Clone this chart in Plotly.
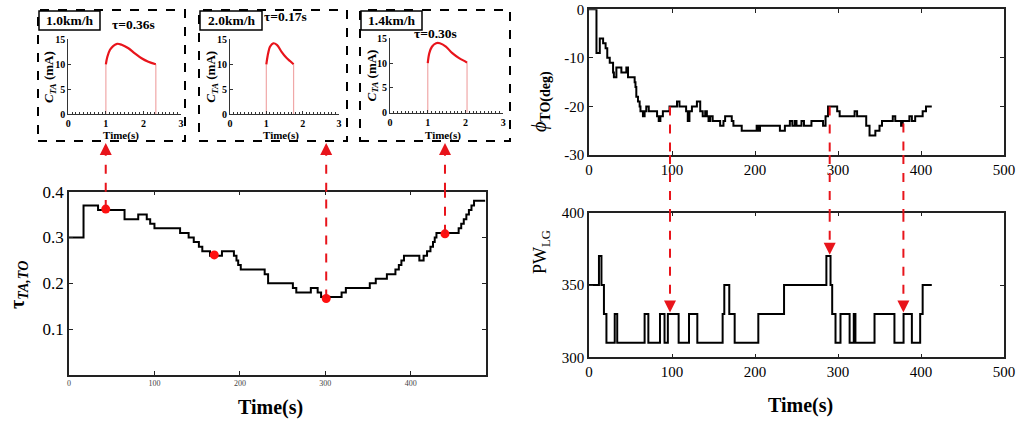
import plotly.graph_objects as go

W, H = 1021, 423          # size of the photographed page
PAGE_MARGIN = 0           # body margin is removed by the post script below
FONT = "Liberation Serif"
RED = "#e8141b"

# ---------------- data ----------------
tau_time = [0, 17, 34, 65, 81, 91, 95, 100, 130, 140, 146, 152, 156, 165, 179, 193, 196, 198, 201,
            229, 233, 262, 266, 283, 291, 295, 319, 324, 352, 359, 372, 382, 386, 389, 392, 410,
            415, 419, 423, 426, 428, 430, 456, 459, 462, 465, 468, 471, 474, 487]
tau_val = [0.30, 0.37, 0.36, 0.34, 0.35, 0.34, 0.33, 0.32, 0.31, 0.30, 0.29, 0.28, 0.27, 0.26, 0.27,
           0.26, 0.25, 0.24, 0.23, 0.22, 0.20, 0.19, 0.18, 0.19, 0.18, 0.17, 0.18, 0.19, 0.20, 0.21,
           0.22, 0.23, 0.24, 0.25, 0.26, 0.25, 0.26, 0.27, 0.28, 0.29, 0.30, 0.31, 0.32, 0.33, 0.34,
           0.35, 0.36, 0.37, 0.38, 0.38]
tau_mark_time = [43, 170, 301, 440]
tau_mark_val = [0.362, 0.262, 0.167, 0.308]
tau_link_time = [43, 301, 440]
tau_link_val = [0.362, 0.167, 0.308]

phi_time = [0, 9, 13, 17, 20, 22, 25, 29, 30, 33, 39, 45, 47, 55, 56, 57, 59, 61, 62, 65, 67, 69, 72,
            82, 84, 86, 89, 97, 106, 109, 117, 119, 121, 124, 130, 134, 137, 140, 142, 144, 146, 149,
            158, 162, 164, 172, 174, 184, 202, 204, 206, 230, 236, 242, 245, 248, 250, 256, 259, 268,
            282, 285, 288, 299, 302, 320, 323, 334, 338, 345, 350, 353, 366, 369, 376, 378, 386, 389,
            393, 402, 406, 413]
phi_val = [0, -9, -6, -7, -8, -10, -11, -13, -14, -12, -13, -12, -14, -15, -16, -18, -19, -20, -21,
           -22, -21, -20, -21, -22, -23, -22, -21, -20, -19, -20, -21, -23, -21, -20, -19, -21, -22,
           -21, -22, -23, -22, -23, -24, -23, -22, -23, -24, -25, -24, -25, -24, -25, -24, -23, -24,
           -23, -24, -23, -24, -23, -24, -22, -20, -21, -22, -21, -22, -24, -26, -25, -24, -23, -22,
           -23, -24, -23, -22, -23, -22, -21, -20, -20]

pw_time = [0, 12, 15, 18, 21, 31, 34, 67, 71.5, 85.5, 91, 95, 108, 120.5, 130.5, 161, 163, 169, 175.5,
           204, 235, 286, 291, 293, 297, 303, 314, 319, 321, 344, 368, 379, 389, 399, 402, 413]
pw_val = [350, 370, 350, 330, 310, 330, 310, 330, 310, 330, 310, 330, 310, 330, 310, 330, 350, 330,
          310, 330, 350, 370, 350, 330, 310, 330, 310, 330, 310, 330, 310, 330, 310, 330, 350, 350]

link_time = [97.6, 290, 378.8]
link_phi = [-20, -20, -23.5]
link_pw = [331, 371, 331]

inset_speed = ["1.0km/h", "2.0km/h", "1.4km/h"]
inset_tau = ["τ=0.36s", "τ=0.17s", "τ=0.30s"]
inset_t = [
    [1.0, 1.04, 1.11, 1.2, 1.3, 1.42, 1.6, 1.77, 1.95, 2.13, 2.33],
    [1.0, 1.05, 1.1, 1.19, 1.29, 1.42, 1.54, 1.66, 1.75],
    [1.0, 1.04, 1.11, 1.22, 1.32, 1.48, 1.65, 1.83, 2.0, 2.04],
]
inset_c = [
    [10, 11.5, 12.9, 13.7, 14.1, 13.9, 13.2, 12.2, 11.2, 10.5, 10],
    [10, 12.2, 13.5, 14.2, 13.9, 12.5, 11.4, 10.6, 10],
    [10, 12, 13.3, 14, 14, 13.3, 12, 11, 10.3, 10.1],
]

tau_xticks = [0, 100, 200, 300, 400]
tau_yticks = [0.1, 0.2, 0.3, 0.4]
right_xticks = [0, 100, 200, 300, 400, 500]
phi_yticks = [0, -10, -20, -30]
phi_yticktext = ["0", "-10", "-20", "-30"]
pw_yticks = [300, 350, 400]
inset_xticks = [0, 1, 2, 3]
inset_yticks = [0, 5, 10, 15]

# ---------------- layout helpers (page pixels -> paper fractions) ----------------
FW, FH = W - PAGE_MARGIN, H - PAGE_MARGIN


def px(x):
    return (x - PAGE_MARGIN) / FW


def py(y):
    return 1 - (y - PAGE_MARGIN) / FH


MAIN = dict(x=(69, 486), y=(191.7, 375))
RT = dict(x=(589, 1004), y=(9.3, 155))
RB = dict(x=(589, 1004), y=(212.7, 357.3))
INSETS = [dict(x=(68.3, 181), y=(39.3, 114.3)),
          dict(x=(230, 339), y=(39.3, 114.3)),
          dict(x=(390, 503.3), y=(38.3, 112.7))]
BOXES = [(38, 185), (199, 347), (360, 510)]
BOX_Y = (10, 141)
LABEL_BOXES = [(39, 100), (200, 262), (361, 422)]
TAU_POS = [(133, 25), (285, 17), (435, 33)]


def xdom(d):
    return [px(d["x"][0]), px(d["x"][1])]


def ydom(d):
    return [py(d["y"][1]), py(d["y"][0])]


def frame(**kw):
    base = dict(showline=True, linecolor="#222", linewidth=1.5, mirror="ticks", ticks="inside",
                ticklen=4, tickcolor="#222", tickwidth=1.2, showgrid=False, zeroline=False,
                ticklabeloverflow="allow")
    base.update(kw)
    return base


def label(text, x, y, size, angle=0):
    return dict(text=text, xref="paper", yref="paper", x=px(x), y=py(y), xanchor="center",
                yanchor="middle", showarrow=False, textangle=angle, font=dict(size=size))


fig = go.Figure()

# main left
fig.add_trace(go.Scatter(x=tau_time, y=tau_val, mode="lines", line=dict(color="black", width=2, shape="hv"),
                         xaxis="x", yaxis="y", showlegend=False))
fig.add_trace(go.Scatter(x=tau_mark_time, y=tau_mark_val, mode="markers",
                         marker=dict(color="#ff1010", size=9), xaxis="x", yaxis="y", showlegend=False,
                         cliponaxis=False))
# right top / bottom
fig.add_trace(go.Scatter(x=phi_time, y=phi_val, mode="lines", line=dict(color="black", width=2, shape="hv"),
                         xaxis="x2", yaxis="y2", showlegend=False))
fig.add_trace(go.Scatter(x=pw_time, y=pw_val, mode="lines", line=dict(color="black", width=2, shape="hv"),
                         xaxis="x3", yaxis="y3", showlegend=False))

# insets
for i in range(3):
    xa = "x%d" % (4 + i)
    ya = "y%d" % (4 + i)
    t, c = inset_t[i], inset_c[i]
    fig.add_trace(go.Scatter(x=[t[0], t[0], None, t[-1], t[-1]], y=[0, c[0], None, 0, c[-1]], mode="lines",
                             line=dict(color="#f0a8a8", width=1.2), xaxis=xa, yaxis=ya, showlegend=False))
    fig.add_trace(go.Scatter(x=t, y=c, mode="lines", line=dict(color=RED, width=2.2, shape="spline"),
                             xaxis=xa, yaxis=ya, showlegend=False))

layout = dict(
    width=FW, height=FH, margin=dict(l=0, r=0, t=0, b=0, autoexpand=False),
    paper_bgcolor="white", plot_bgcolor="white",
    font=dict(family=FONT, color="black"),
    xaxis=frame(domain=xdom(MAIN), range=[0, 488], tickvals=tau_xticks, tickfont=dict(size=8, color="#444"),
                anchor="y"),
    yaxis=frame(domain=ydom(MAIN), range=[0, 0.4], tickvals=tau_yticks, tickfont=dict(size=17), anchor="x"),
    xaxis2=frame(domain=xdom(RT), range=[0, 500], tickvals=right_xticks, tickfont=dict(size=15), anchor="y2"),
    yaxis2=frame(domain=ydom(RT), range=[-30, 0], tickvals=phi_yticks, ticktext=phi_yticktext,
                 tickfont=dict(size=15), anchor="x2"),
    xaxis3=frame(domain=xdom(RB), range=[0, 500], tickvals=right_xticks, tickfont=dict(size=15), anchor="y3"),
    yaxis3=frame(domain=ydom(RB), range=[300, 400], tickvals=pw_yticks, tickfont=dict(size=15), anchor="x3"),
)
for i in range(3):
    d = INSETS[i]
    layout["xaxis%d" % (4 + i)] = dict(
        domain=xdom(d), range=[0, 3], tickvals=inset_xticks, showline=True, linecolor="#333", linewidth=1,
        ticks="inside", ticklen=3, tickcolor="#333",
        minor=dict(dtick=0.1, ticks="inside", ticklen=2, tickcolor="#333"),
        showgrid=False, zeroline=False, anchor="y%d" % (4 + i), ticklabeloverflow="allow",
        tickfont=dict(size=10, weight="bold"))
    layout["yaxis%d" % (4 + i)] = dict(
        domain=ydom(d), range=[0, 15], tickvals=inset_yticks, showline=True, linecolor="#333", linewidth=1,
        ticks="inside", ticklen=3, tickcolor="#333", showgrid=False, zeroline=False,
        anchor="x%d" % (4 + i), ticklabeloverflow="allow", tickfont=dict(size=10, weight="bold"))
fig.update_layout(**layout)

shapes = []
annotations = []

# inset frames and labels
for i in range(3):
    bx0, bx1 = BOXES[i]
    shapes.append(dict(type="rect", xref="paper", yref="paper", x0=px(bx0), x1=px(bx1), y0=py(BOX_Y[1]),
                       y1=py(BOX_Y[0]), line=dict(color="black", width=2, dash="dash")))
    lx0, lx1 = LABEL_BOXES[i]
    shapes.append(dict(type="rect", xref="paper", yref="paper", x0=px(lx0), x1=px(lx1), y0=py(30), y1=py(11),
                       line=dict(color="black", width=1.5)))
    annotations.append(label("<b>%s</b>" % inset_speed[i], (lx0 + lx1) / 2, 20.5, 13.5))
    tx, ty = TAU_POS[i]
    annotations.append(label("<b>%s</b>" % inset_tau[i], tx, ty, 13.5))
    d = INSETS[i]
    annotations.append(label("<b>Time(s)</b>", (d["x"][0] + d["x"][1]) / 2 - 4, 135, 11))
    annotations.append(label("<b><i>C</i><sub><i>TA</i></sub> (mA)</b>", d["x"][0] - 18,
                             (d["y"][0] + d["y"][1]) / 2, 13, -90))

dash_line = dict(color=RED, width=2, dash="dash")
# left links: dot -> inset
for t, v in zip(tau_link_time, tau_link_val):
    shapes.append(dict(type="line", xref="x", yref="y", x0=t, x1=t, y0=v, y1=0.4, line=dash_line))
    shapes.append(dict(type="line", xref="x", yref="paper", x0=t, x1=t, y0=py(MAIN["y"][0]), y1=py(146),
                       line=dash_line))
    annotations.append(dict(x=t, y=py(143), xref="x", yref="paper", text="", showarrow=True, ax=0, ay=10,
                            arrowhead=2, arrowsize=1.2, arrowwidth=2, arrowcolor=RED))

# right links: phi -> PW
for t, a, b in zip(link_time, link_phi, link_pw):
    shapes.append(dict(type="line", xref="x2", yref="y2", x0=t, x1=t, y0=a, y1=-30, line=dash_line))
    shapes.append(dict(type="line", xref="x2", yref="paper", x0=t, x1=t, y0=py(RT["y"][1]),
                       y1=py(RB["y"][0]), line=dash_line))
    shapes.append(dict(type="line", xref="x3", yref="y3", x0=t, x1=t, y0=400, y1=b + 3, line=dash_line))
    annotations.append(dict(x=t, y=b, xref="x3", yref="y3", text="", showarrow=True, ax=0, ay=-10,
                            arrowhead=2, arrowsize=1.2, arrowwidth=2, arrowcolor=RED))

# axis titles
annotations.append(label("<b>Time(s)</b>", 270, 407, 20))
annotations.append(label("<b>Time(s)</b>", 800, 405, 20))
annotations.append(label("<b>τ<sub><i>TA,TO</i></sub></b>", 18, 285, 20, -90))
annotations.append(label("<i>ϕ</i><sub><b>TO(deg)</b></sub>", 541, 102, 20, -90))
annotations.append(label("PW<sub>LG</sub>", 541, 252, 18, -90))

fig.update_layout(shapes=shapes, annotations=annotations)

fig.write_html("out.html", config={"displayModeBar": False},
               post_script="document.body.style.margin='0px';")
